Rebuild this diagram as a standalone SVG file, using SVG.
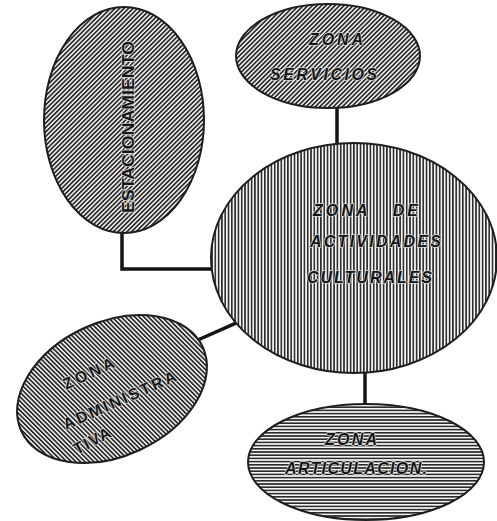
<svg xmlns="http://www.w3.org/2000/svg" width="497" height="521" viewBox="0 0 497 521">
<defs>
<pattern id="hDiag" patternUnits="userSpaceOnUse" width="3.2" height="10" patternTransform="rotate(45)">
<rect width="3.2" height="10" fill="#f4f4f4"/><rect width="1.7" height="10" fill="#2b2b2b"/>
</pattern>
<pattern id="hDiagB" patternUnits="userSpaceOnUse" width="3.2" height="10" patternTransform="rotate(-20)">
<rect width="3.2" height="10" fill="#f4f4f4"/><rect width="1.7" height="10" fill="#2b2b2b"/>
</pattern>
<pattern id="hVert" patternUnits="userSpaceOnUse" width="3.3" height="10">
<rect width="3.3" height="10" fill="#f4f4f4"/><rect width="1.6" height="10" fill="#2b2b2b"/>
</pattern>
<pattern id="hHoriz" patternUnits="userSpaceOnUse" width="10" height="3.2">
<rect width="10" height="3.2" fill="#f4f4f4"/><rect width="10" height="1.6" fill="#2b2b2b"/>
</pattern>
</defs>
<style>
.shape{stroke:#1e1e1e;stroke-width:2}
.conn{stroke:#141414;stroke-width:3.5;fill:none;stroke-linecap:square}
.lbl{font-family:"Liberation Sans",Arial,sans-serif;font-weight:bold;font-style:italic;font-size:16px;fill:#151515;stroke:#d8d8d8;stroke-width:1.4;paint-order:stroke;stroke-linejoin:round}
.up{font-style:normal}
</style>
<rect width="497" height="521" fill="#ffffff"/>
<g id="connectors">
<polyline class="conn" points="122,234 122,269 212,269"/>
<line class="conn" x1="337" y1="108" x2="337" y2="143"/>
<line class="conn" x1="200" y1="339" x2="236" y2="323"/>
<line class="conn" x1="365" y1="373" x2="365" y2="403"/>
</g>
<g id="estacionamiento">
<ellipse class="shape" cx="124" cy="120" rx="80" ry="113" fill="url(#hDiag)"/>
<text class="lbl up" transform="translate(134,127) rotate(-90)" text-anchor="middle" textLength="172" lengthAdjust="spacingAndGlyphs">ESTACIONAMIENTO</text>
</g>
<g id="servicios">
<ellipse class="shape" cx="328" cy="56" rx="92" ry="52" fill="url(#hDiag)"/>
<text class="lbl" x="309" y="45" textLength="54" lengthAdjust="spacing">ZONA</text>
<text class="lbl" x="270" y="80" textLength="107" lengthAdjust="spacing">SERVICIOS</text>
</g>
<g id="actividades">
<ellipse class="shape" cx="354" cy="258" rx="143" ry="115" fill="url(#hVert)"/>
<text class="lbl" x="313" y="216" textLength="105" lengthAdjust="spacing" xml:space="preserve">ZONA   DE</text>
<text class="lbl" x="310" y="247" textLength="131" lengthAdjust="spacing">ACTIVIDADES</text>
<text class="lbl" x="307" y="283" textLength="125" lengthAdjust="spacing">CULTURALES</text>
</g>
<g id="administrativa">
<ellipse class="shape" cx="112" cy="389" rx="100" ry="67" transform="rotate(-25 112 389)" fill="url(#hDiagB)"/>
<text class="lbl up" transform="translate(66,390) rotate(-25)" textLength="55" lengthAdjust="spacing">ZONA</text>
<text class="lbl up" transform="translate(66,430) rotate(-24)" textLength="122" lengthAdjust="spacing">ADMINISTRA</text>
<text class="lbl up" transform="translate(77,455) rotate(-28)" textLength="40" lengthAdjust="spacing">TIVA</text>
</g>
<g id="articulacion">
<ellipse class="shape" cx="366" cy="462" rx="118" ry="58" fill="url(#hHoriz)"/>
<text class="lbl" x="325" y="445" textLength="52" lengthAdjust="spacing">ZONA</text>
<text class="lbl" x="285" y="474" textLength="142" lengthAdjust="spacing">ARTICULACION.</text>
</g>
</svg>
